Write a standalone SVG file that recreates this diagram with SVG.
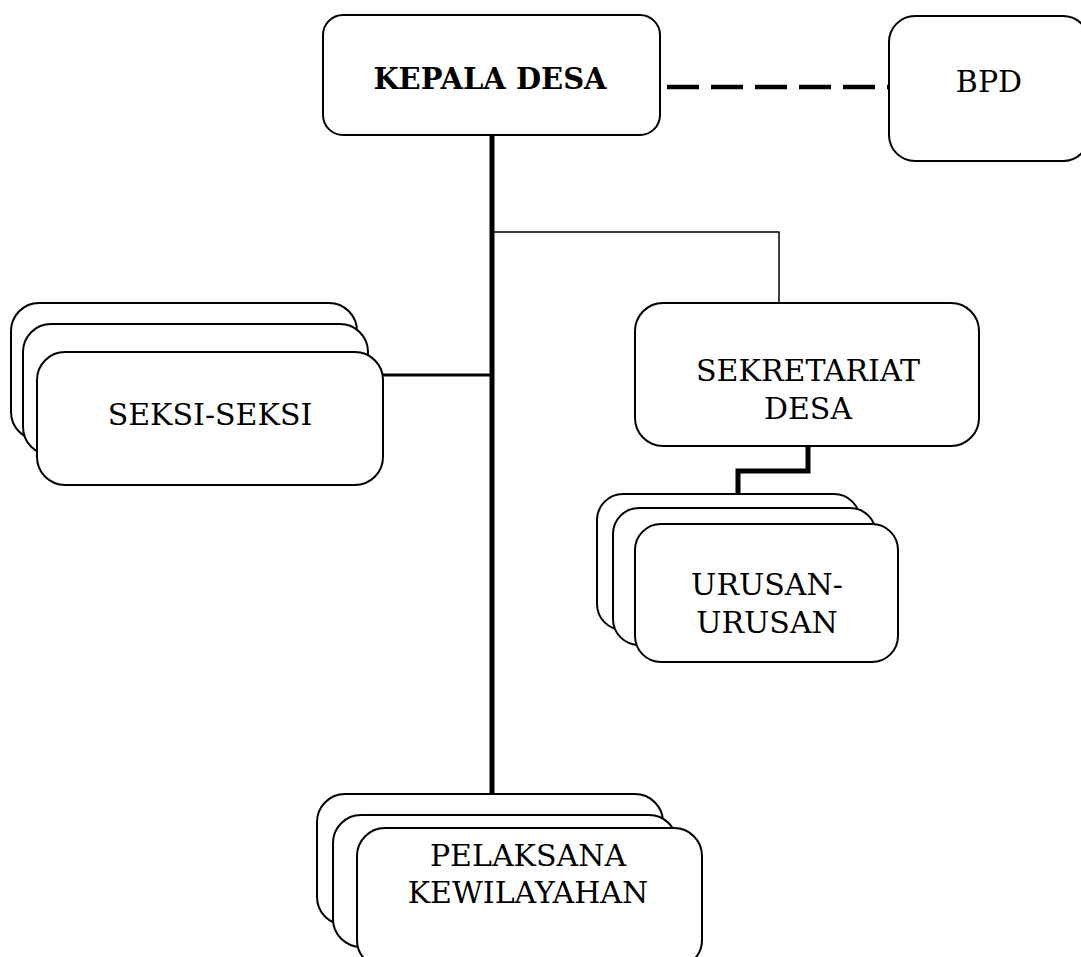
<svg xmlns="http://www.w3.org/2000/svg" width="1081" height="957" viewBox="0 0 1081 957">
<style>
.box{fill:#fff;stroke:#000;stroke-width:2}
.t{font-family:"DejaVu Serif","Liberation Serif",serif;font-size:30px;text-anchor:middle;fill:#000}
.b{font-weight:bold;font-size:29px}
</style>
<rect width="1081" height="957" fill="#fff"/>
<g id="connectors" fill="none" stroke="#000">
<line x1="492" y1="135" x2="492" y2="795" stroke-width="5"/>
<polyline points="492,232 779,232 779,303" stroke-width="1.5"/>
<line x1="383" y1="375" x2="492" y2="375" stroke-width="3"/>
<line x1="667" y1="87" x2="889" y2="87" stroke-width="4.5" stroke-dasharray="32,12"/>
<polyline points="808,446 808,471 738,471 738,494" stroke-width="5"/>
</g>
<g id="kepala-desa">
<rect class="box" x="323" y="15" width="337" height="120" rx="20"/>
<text class="t b" x="490" y="89">KEPALA DESA</text>
</g>
<g id="bpd">
<rect class="box" x="889" y="16" width="200" height="145" rx="26"/>
<text class="t" x="989" y="92">BPD</text>
</g>
<g id="sekretariat-desa">
<rect class="box" x="635" y="303" width="344" height="143" rx="28"/>
<text class="t" x="808" y="381">SEKRETARIAT</text>
<text class="t" x="808" y="419">DESA</text>
</g>
<g id="seksi-seksi">
<rect class="box" x="11" y="303" width="346" height="137" rx="28"/>
<rect class="box" x="23" y="324" width="345" height="131" rx="28"/>
<rect class="box" x="37" y="352" width="346" height="133" rx="28"/>
<text class="t" x="210" y="425">SEKSI-SEKSI</text>
</g>
<g id="urusan-urusan">
<rect class="box" x="597" y="494" width="263" height="136" rx="26"/>
<rect class="box" x="613" y="508" width="263" height="137" rx="26"/>
<rect class="box" x="635" y="524" width="263" height="138" rx="26"/>
<text class="t" x="767" y="595">URUSAN-</text>
<text class="t" x="767" y="633">URUSAN</text>
</g>
<g id="pelaksana-kewilayahan">
<rect class="box" x="317" y="794" width="346" height="131" rx="28"/>
<rect class="box" x="333" y="815" width="344" height="132" rx="28"/>
<rect class="box" x="357" y="828" width="345" height="140" rx="28"/>
<text class="t" x="528" y="866">PELAKSANA</text>
<text class="t" x="528" y="903">KEWILAYAHAN</text>
</g>
</svg>
